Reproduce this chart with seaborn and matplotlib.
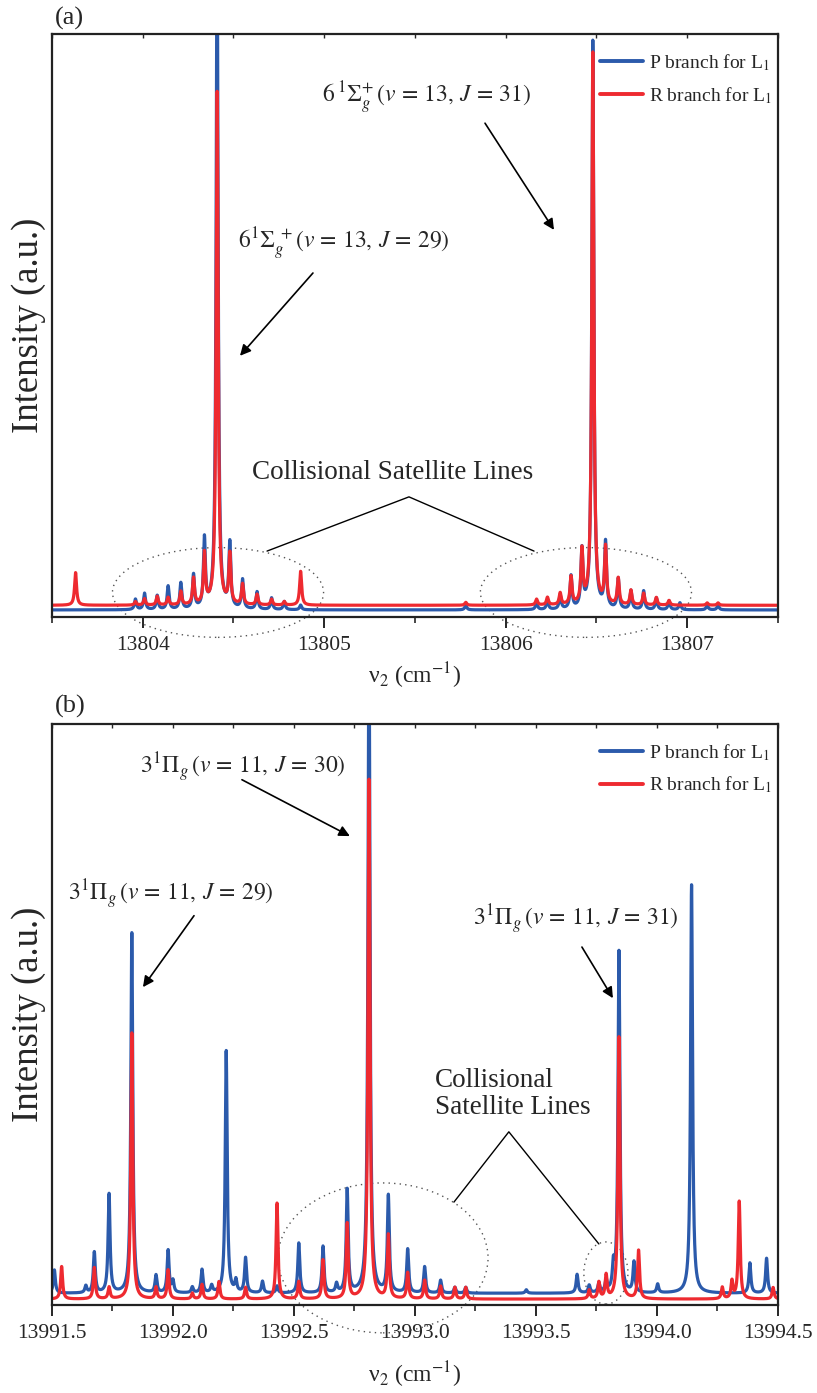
import numpy as np
import pandas as pd
import matplotlib
matplotlib.use("Agg")
import matplotlib.pyplot as plt
from matplotlib.patches import Ellipse
import seaborn as sns

# ---------------- line lists (position in cm^-1, peak intensity above baseline) ----------------
# Panel (a): 6 1Sigma_g+ (v=13) region
a_p_pos = [13803.96, 13804.01, 13804.08, 13804.14, 13804.21, 13804.28, 13804.34, 13804.41,
           13804.48, 13804.55, 13804.63, 13804.71, 13804.78, 13804.87,
           13805.78, 13806.17, 13806.23, 13806.30, 13806.36, 13806.42, 13806.48,
           13806.55, 13806.62, 13806.69, 13806.76, 13806.83, 13806.90, 13806.96,
           13807.11, 13807.17]
a_p_int = [0.018, 0.028, 0.024, 0.040, 0.045, 0.058, 0.118, 1.150,
           0.110, 0.050, 0.030, 0.020, 0.014, 0.008,
           0.008, 0.012, 0.016, 0.024, 0.056, 0.098, 0.975,
           0.112, 0.052, 0.032, 0.032, 0.020, 0.015, 0.012,
           0.008, 0.008]
a_r_pos = [13803.63, 13803.96, 13804.01, 13804.08, 13804.14, 13804.21, 13804.28, 13804.34,
           13804.41, 13804.48, 13804.55, 13804.63, 13804.71, 13804.78, 13804.87,
           13805.78, 13806.17, 13806.23, 13806.30, 13806.36, 13806.42, 13806.48,
           13806.55, 13806.62, 13806.69, 13806.76, 13806.83, 13806.90, 13807.11, 13807.17]
a_r_int = [0.056, 0.006, 0.011, 0.015, 0.013, 0.023, 0.045, 0.086,
           0.880, 0.085, 0.035, 0.018, 0.010, 0.006, 0.058,
           0.005, 0.010, 0.013, 0.020, 0.047, 0.090, 0.947,
           0.096, 0.045, 0.025, 0.020, 0.013, 0.008, 0.004, 0.004]
a_baseline = {"P": 0.012, "R": 0.020}

# Panel (b): 3 1Pi_g (v=11) region
b_p_pos = [13991.51, 13991.64, 13991.675, 13991.736, 13991.83, 13991.93, 13991.98, 13992.00,
           13992.08, 13992.12, 13992.16, 13992.22, 13992.26, 13992.30, 13992.37, 13992.43,
           13992.52, 13992.62, 13992.676, 13992.72, 13992.81, 13992.89, 13992.97, 13993.04,
           13993.106, 13993.165, 13993.21, 13993.46, 13993.67, 13993.72, 13993.76, 13993.79,
           13993.82, 13993.843, 13993.905, 13994.003, 13994.143, 13994.384, 13994.453]
b_p_int = [0.040, 0.012, 0.070, 0.170, 0.620, 0.030, 0.073, 0.020,
           0.010, 0.040, 0.012, 0.417, 0.020, 0.060, 0.020, 0.012,
           0.086, 0.080, 0.015, 0.177, 1.150, 0.166, 0.075, 0.045,
           0.022, 0.010, 0.010, 0.006, 0.032, 0.013, 0.016, 0.020,
           0.040, 0.588, 0.052, 0.015, 0.703, 0.052, 0.060]
b_r_pos = [13991.54, 13991.675, 13991.736, 13991.83, 13991.93, 13991.98, 13992.08, 13992.12,
           13992.19, 13992.30, 13992.43, 13992.52, 13992.62, 13992.72, 13992.81, 13992.89,
           13992.97, 13993.04, 13993.106, 13993.165, 13993.21, 13993.72, 13993.76, 13993.79,
           13993.843, 13993.924, 13994.27, 13994.31, 13994.34, 13994.48]
b_r_int = [0.056, 0.054, 0.020, 0.458, 0.020, 0.050, 0.010, 0.025,
           0.030, 0.020, 0.165, 0.030, 0.067, 0.129, 0.894, 0.109,
           0.045, 0.032, 0.022, 0.020, 0.020, 0.015, 0.028, 0.040,
           0.451, 0.083, 0.020, 0.030, 0.168, 0.020]
b_baseline = {"P": 0.020, "R": 0.010}

branch_labels = ["P branch for L$_1$", "R branch for L$_1$"]
colors = {"P": "#2b5aab", "R": "#ee2a30"}


def spectrum(x, pos, inten, hwhm):
    pos = np.asarray(pos)[:, None]
    inten = np.asarray(inten)[:, None]
    return (inten / (1.0 + ((x[None, :] - pos) / hwhm) ** 2)).sum(axis=0)


def build_frame(xmin, xmax, p_pos, p_int, r_pos, r_int, base, hwhm):
    grid = np.union1d(np.linspace(xmin, xmax, 12000), np.r_[p_pos, r_pos])
    rows = []
    for key, pos, inten in (("P", p_pos, p_int), ("R", r_pos, r_int)):
        y = base[key] + spectrum(grid, pos, inten, hwhm)
        rows.append(pd.DataFrame({"nu": grid, "I": y, "branch": key}))
    return pd.concat(rows, ignore_index=True)


sns.set_theme(style="ticks")
plt.rcParams["font.family"] = ["Liberation Serif", "DejaVu Serif"]
plt.rcParams["mathtext.fontset"] = "stix"

fig = plt.figure(figsize=(8.17, 13.93), dpi=100)
ax_a = fig.add_axes([0.0636, 0.5571, 0.8886, 0.4185])
ax_b = fig.add_axes([0.0636, 0.0632, 0.8886, 0.4171])

df_a = build_frame(13803.5, 13807.5, a_p_pos, a_p_int, a_r_pos, a_r_int, a_baseline, 0.0065)
df_b = build_frame(13991.5, 13994.5, b_p_pos, b_p_int, b_r_pos, b_r_int, b_baseline, 0.0048)

for ax, df, xpad in ((ax_a, df_a, 4), (ax_b, df_b, 12)):
    sns.lineplot(data=df, x="nu", y="I", hue="branch", palette=colors,
                 estimator=None, sort=False, linewidth=2.3, ax=ax, legend=False)
    for s in ax.spines.values():
        s.set_visible(True)
        s.set_linewidth(1.6)
        s.set_color("#222222")
    ax.set_ylim(0, 1)
    ax.set_yticks([])
    ax.set_ylabel("Intensity (a.u.)", fontsize=26.5, labelpad=4)
    ax.set_xlabel("ν$_2$ (cm$^{-1}$)", fontsize=17, labelpad=xpad)
    ax.tick_params(axis="x", which="major", direction="out", length=8, width=1.4,
                   labelsize=15.5, pad=6, top=False)
    ax.tick_params(axis="x", which="minor", direction="out", length=4.5, width=1.2, top=False)
    handles = [plt.Line2D([], [], color=colors[k], lw=2.8) for k in ("P", "R")]
    ax.legend(handles, branch_labels, loc="upper right", bbox_to_anchor=(1.0, 0.979),
              frameon=False, fontsize=14, handlelength=2.2, handletextpad=0.3,
              labelspacing=0.62, borderaxespad=0.0, borderpad=0.3)

ax_a.set_xlim(13803.5, 13807.5)
ax_a.xaxis.set_major_locator(plt.MultipleLocator(1))
ax_a.xaxis.set_minor_locator(plt.MultipleLocator(0.5))
ax_a.xaxis.set_major_formatter(plt.FormatStrFormatter("%d"))
ax_b.set_xlim(13991.5, 13994.5)
ax_b.xaxis.set_major_locator(plt.MultipleLocator(0.5))
ax_b.xaxis.set_minor_locator(plt.MultipleLocator(0.25))
ax_b.xaxis.set_major_formatter(plt.FormatStrFormatter("%.1f"))

# small inward ticks along the top frame
for ax, step in ((ax_a, 0.5), (ax_b, 0.25)):
    top = ax.secondary_xaxis("top")
    top.xaxis.set_major_locator(plt.MultipleLocator(step))
    top.tick_params(direction="in", length=3, width=1.0, labeltop=False)
    top.spines["top"].set_visible(False)

fig.text(0.067, 0.987, "(a)", fontsize=19, va="center", ha="left")
fig.text(0.067, 0.493, "(b)", fontsize=19, va="center", ha="left")

arrow = dict(arrowstyle="-|>", color="black", lw=1.2, mutation_scale=16, shrinkA=0, shrinkB=0)
fs = 17
fs_sat = 19.5

# ---- panel (a) annotations ----
ax_a.annotate("", xy=(13806.266, 0.664), xytext=(13805.886, 0.847), arrowprops=arrow)
ax_a.text(13804.99, 0.89, r"$6\,^{1}\Sigma_{g}^{+}\,(v\,=\,13,\,J\,=\,31)$", fontsize=fs,
          ha="left", va="center")
ax_a.annotate("", xy=(13804.536, 0.448), xytext=(13804.938, 0.59), arrowprops=arrow)
ax_a.text(13804.525, 0.641, r"$6^{1}\Sigma_{g}^{\;+}(v\,=\,13,\,J\,=\,29)$", fontsize=fs,
          ha="left", va="center")
ax_a.text(13805.379, 0.247, "Collisional Satellite Lines", fontsize=fs_sat,
          ha="center", va="center")
ax_a.plot([13804.685, 13805.467, 13806.156], [0.113, 0.206, 0.113], color="black", lw=1.0)
for cx in (13804.415, 13806.442):
    ax_a.add_patch(Ellipse((cx, 0.042), 1.163, 0.154, fill=False, ls=(0, (1, 3)),
                           lw=1.0, ec="#555555", clip_on=False))

# ---- panel (b) annotations ----
ax_b.annotate("", xy=(13992.731, 0.807), xytext=(13992.285, 0.904), arrowprops=arrow)
ax_b.text(13991.864, 0.926, r"$3^{1}\Pi_{g}\,(v\,=\,11,\,J\,=\,30)$", fontsize=fs,
          ha="left", va="center")
ax_b.annotate("", xy=(13991.876, 0.547), xytext=(13992.087, 0.670), arrowprops=arrow)
ax_b.text(13991.566, 0.706, r"$3^{1}\Pi_{g}\,(v\,=\,11,\,J\,=\,29)$", fontsize=fs,
          ha="left", va="center")
ax_b.annotate("", xy=(13993.818, 0.528), xytext=(13993.69, 0.616), arrowprops=arrow)
ax_b.text(13993.24, 0.663, r"$3^{1}\Pi_{g}\,(v\,=\,11,\,J\,=\,31)$", fontsize=fs,
          ha="left", va="center")
ax_b.text(13993.083, 0.363, "Collisional\nSatellite Lines", fontsize=fs_sat, ha="left",
          va="center", linespacing=1.15)
ax_b.plot([13993.161, 13993.388, 13993.76], [0.177, 0.298, 0.105], color="black", lw=1.0)
ax_b.add_patch(Ellipse((13992.868, 0.081), 0.868, 0.258, fill=False, ls=(0, (1, 3)),
                       lw=1.0, ec="#555555", clip_on=False))
ax_b.add_patch(Ellipse((13993.789, 0.055), 0.182, 0.107, fill=False, ls=(0, (1, 3)),
                       lw=1.0, ec="#555555", clip_on=False))

fig.savefig("out.png", dpi=100)
